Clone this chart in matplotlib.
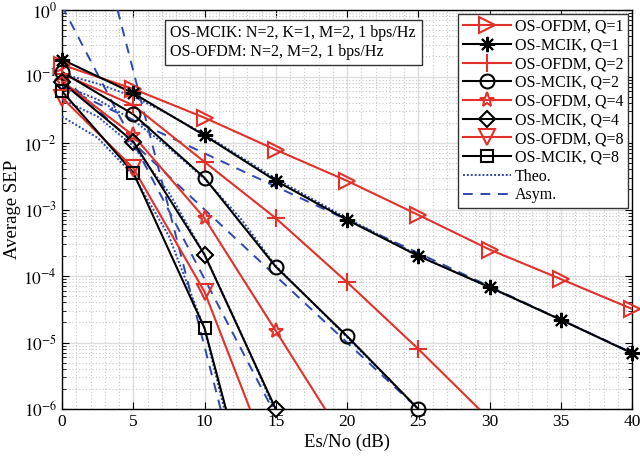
import numpy as np
import matplotlib
matplotlib.use("Agg")
import matplotlib.pyplot as plt
from matplotlib.lines import Line2D
from matplotlib.ticker import LogLocator, NullFormatter, FixedLocator, AutoMinorLocator

plt.rcParams['font.family'] = ['Liberation Serif', 'DejaVu Serif']
plt.rcParams['mathtext.fontset'] = 'stix'

# ---------------- data ----------------
snr_q1 = [0, 5, 10, 15, 20, 25, 30, 35, 40]
ofdm_q1 = [0.15, 0.065, 0.024, 0.0079, 0.0027, 8.3e-4, 2.5e-4, 9e-5, 3.2e-5]
mcik_q1 = [0.18, 0.056, 0.013, 0.0027, 7e-4, 2e-4, 6.8e-5, 2.2e-5, 6.9e-6]

snr_ofdm_q2 = [0, 5, 10, 15, 20, 25, 30]
ofdm_q2 = [0.11, 0.037, 0.0052, 7.4e-4, 8.1e-5, 8e-6, 7e-7]
snr_mcik_q2 = [0, 5, 10, 15, 20, 25]
mcik_q2 = [0.117, 0.027, 0.003, 1.38e-4, 1.25e-5, 1e-6]

snr_ofdm_q4 = [0, 5, 10, 15, 20]
ofdm_q4 = [0.085, 0.013, 7.4e-4, 1.5e-5, 3e-7]
snr_mcik_q4 = [0, 5, 10, 15]
mcik_q4 = [0.082, 0.0105, 2.1e-4, 1e-6]

snr_ofdm_q8 = [0, 5, 10, 15]
ofdm_q8 = [0.048, 0.0042, 5.8e-5, 1e-7]
snr_mcik_q8 = [0, 5, 10, 15]
mcik_q8 = [0.06, 0.0036, 1.65e-5, 1.5e-9]

theo_x_q1 = [0, 2.5, 5, 7.5, 10, 15, 20, 25, 30, 35, 40]
theo_q1 = [0.11, 0.078, 0.05, 0.027, 0.0135, 0.0029, 7.4e-4, 2.05e-4, 6.7e-5, 2.2e-5, 7e-6]
theo_x_q2 = [0, 2.5, 5, 7.5, 10, 12.5, 15, 20, 25]
theo_q2 = [0.075, 0.045, 0.022, 0.0085, 0.0029, 7.5e-4, 1.42e-4, 1.2e-5, 1e-6]
theo_x_q4 = [0, 2.5, 5, 7.5, 10, 12.5, 15]
theo_q4 = [0.045, 0.025, 0.009, 0.0018, 2.1e-4, 1.5e-5, 9e-7]
theo_x_q8 = [0, 2.5, 5, 7.5, 10, 11.5]
theo_q8 = [0.025, 0.012, 0.0033, 4e-4, 1.6e-5, 8e-7]

asym_x_q1 = [0, 40]
asym_q1 = [0.07, 7e-6]
asym_x_q2 = [0, 25]
asym_q2 = [0.1, 1e-6]
asym_x_q4 = [0, 15]
asym_q4 = [1.15, 8e-7]
asym_x_q8 = [3.9, 11.4]
asym_q8 = [1.0, 6e-7]

x_ticks = [0, 5, 10, 15, 20, 25, 30, 35, 40]
y_ticks = [1e-6, 1e-5, 1e-4, 1e-3, 1e-2, 1e-1, 1e0]
legend_labels = ['OS-OFDM, Q=1', 'OS-MCIK, Q=1', 'OS-OFDM, Q=2', 'OS-MCIK, Q=2',
                 'OS-OFDM, Q=4', 'OS-MCIK, Q=4', 'OS-OFDM, Q=8', 'OS-MCIK, Q=8',
                 'Theo.', 'Asym.']
info_text = 'OS-MCIK: N=2, K=1, M=2, 1 bps/Hz\nOS-OFDM: N=2, M=2, 1 bps/Hz'

RED = '#e2302a'
BLACK = '#000000'
BLUE = '#2f47b0'
YMIN, YMAX = 1e-6, 1e0

fig = plt.figure(figsize=(6.4, 4.65), dpi=100)
ax = fig.add_axes([62/640, 1-409/465, 570/640, 399/465])
ax.set_yscale('log')
ax.set_xlim(0, 40)
ax.set_ylim(YMIN, YMAX)

# theoretical and asymptotic curves
for xs, ys in [(theo_x_q1, theo_q1), (theo_x_q2, theo_q2), (theo_x_q4, theo_q4), (theo_x_q8, theo_q8)]:
    ax.plot(xs, ys, color=BLUE, linestyle=(0, (1, 1)), linewidth=1.4, zorder=3)
for xs, ys in [(asym_x_q1, asym_q1), (asym_x_q2, asym_q2), (asym_x_q4, asym_q4), (asym_x_q8, asym_q8)]:
    ax.plot(xs, ys, color=BLUE, linestyle=(0, (5, 4)), linewidth=1.4, zorder=3)

series = [
    (snr_q1, ofdm_q1, RED, '>', 11),
    (snr_q1, mcik_q1, BLACK, (8, 2, 0), 11),
    (snr_ofdm_q2, ofdm_q2, RED, '+', 13),
    (snr_mcik_q2, mcik_q2, BLACK, 'o', 10),
    (snr_ofdm_q4, ofdm_q4, RED, '*', 11),
    (snr_mcik_q4, mcik_q4, BLACK, 'D', 8),
    (snr_ofdm_q8, ofdm_q8, RED, 'v', 11),
    (snr_mcik_q8, mcik_q8, BLACK, 's', 8),
]
handles = []
for xs, ys, col, mk, ms in series:
    xs = np.asarray(xs, float)
    ys = np.asarray(ys, float)
    ax.plot(xs, ys, color=col, linewidth=1.5, zorder=4)
    inside = ys >= YMIN * 0.999
    mew = 1.5
    mfc = col if isinstance(mk, tuple) else 'none'
    ax.plot(xs[inside], ys[inside], linestyle='none', marker=mk, markersize=ms,
            markerfacecolor=mfc, markeredgecolor=col, markeredgewidth=mew,
            clip_on=False, zorder=5)
    handles.append(Line2D([], [], color=col, linewidth=1.5, marker=mk, markersize=ms,
                          markerfacecolor=mfc, markeredgecolor=col, markeredgewidth=mew))
handles.append(Line2D([], [], color=BLUE, linestyle=(0, (1, 1)), linewidth=1.4))
handles.append(Line2D([], [], color=BLUE, linestyle=(0, (5, 4)), linewidth=1.4))

# axes styling
ax.xaxis.set_major_locator(FixedLocator(x_ticks))
ax.set_xticklabels([str(v) for v in x_ticks])
ax.yaxis.set_major_locator(FixedLocator(y_ticks))
ax.yaxis.set_minor_locator(LogLocator(base=10, subs=np.arange(2, 10), numticks=20))
ax.yaxis.set_minor_formatter(NullFormatter())
ax.set_yticklabels([r'$10^{%d}$' % int(np.log10(v)) for v in y_ticks])
ax.xaxis.set_minor_locator(AutoMinorLocator(5))
ax.tick_params(which='both', direction='in', top=True, right=True, labelsize=12.5)
ax.tick_params(which='major', length=5)
ax.tick_params(which='minor', length=3)
ax.tick_params(axis='x', which='minor', length=0)
ax.grid(True, which='major', color='#dcdcdc', linewidth=1.0)
ax.grid(True, which='minor', color='#c8c8c8', linestyle=(0, (1, 2)), linewidth=0.8)
ax.set_axisbelow(True)
for s in ax.spines.values():
    s.set_linewidth(1.0)

ax.set_xlabel('Es/No (dB)', fontsize=13.5, labelpad=3)
ax.set_ylabel('Average SEP', fontsize=13.5, labelpad=2)

ax.text(0.19, 0.962, info_text, transform=ax.transAxes, fontsize=11.5,
        va='top', ha='left', linespacing=1.2,
        bbox=dict(boxstyle='square,pad=0.35', facecolor='white', edgecolor='#333333', linewidth=1.0),
        zorder=6)

leg = ax.legend(handles, legend_labels, loc='upper right', fontsize=11.5,
                frameon=True, fancybox=False, edgecolor='#333333', framealpha=1,
                handlelength=3.0, handletextpad=0.25, borderpad=0.3, labelspacing=0.17,
                borderaxespad=0.25)
leg.get_frame().set_linewidth(1.0)
leg.set_zorder(7)

fig.savefig('out.png', dpi=100)
